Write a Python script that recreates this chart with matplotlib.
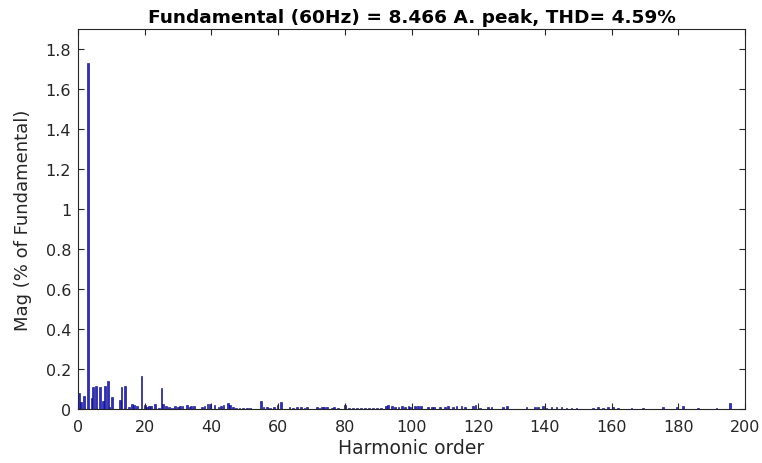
import matplotlib
matplotlib.use("Agg")
import matplotlib.pyplot as plt

plt.rcParams["font.family"] = ["DejaVu Sans"]

# harmonic order (spectrum bins) and magnitude in % of fundamental
order = [0.3, 0.9, 1.7, 3.0, 4.0, 4.5, 5.4, 6.6, 7.5, 8.0, 9.0, 9.4, 10.2,
         12.5, 13.0, 14.0, 15.3, 16.1, 16.7, 17.6, 19.0, 20.0, 20.6, 21.3,
         21.9, 23.0, 24.2, 25.0, 25.5, 26.4, 27.3, 28.2, 29.1, 29.9, 30.6,
         31.3, 32.6, 33.4, 33.9, 34.8, 37.1, 37.9, 38.8, 39.6, 40.9, 42.1,
         42.8, 43.6, 45.0, 45.6, 46.4, 47.4, 48.4, 49.4, 50.6, 51.6, 54.9,
         55.6, 56.6, 57.6, 58.8, 59.8, 60.9, 63.4, 64.4, 65.6, 66.8, 67.9,
         68.6, 71.6, 72.4, 73.1, 73.8, 74.6, 76.1, 76.8, 78.0, 80.1, 81.3,
         82.5, 83.6, 84.8, 86.0, 87.2, 88.4, 89.6, 90.8, 92.4, 93.0, 94.1,
         95.1, 96.1, 97.1, 98.1, 99.1, 99.6, 101.0, 102.0, 102.8, 105.0,
         106.1, 106.7, 108.5, 110.0, 111.0, 112.5, 113.5, 115.0, 116.0,
         118.5, 119.2, 120.5, 123.0, 124.0, 127.5, 128.7, 134.5, 137.0,
         138.0, 139.5, 140.5, 142.0, 143.5, 145.0, 146.5, 148.0, 149.5,
         154.5, 156.0, 157.5, 159.0, 160.5, 162.0, 166.0, 169.5, 175.5,
         179.5, 181.5, 186.0, 191.5, 195.5]
mag = [0.078, 0.033, 0.065, 1.728, 0.055, 0.108, 0.113, 0.108, 0.042, 0.113,
       0.138, 0.01, 0.06, 0.044, 0.108, 0.113, 0.01, 0.023, 0.018, 0.017,
       0.163, 0.02, 0.008, 0.013, 0.013, 0.023, 0.005, 0.103, 0.023, 0.017,
       0.008, 0.007, 0.017, 0.012, 0.017, 0.017, 0.02, 0.01, 0.015, 0.017,
       0.01, 0.017, 0.023, 0.023, 0.018, 0.01, 0.013, 0.018, 0.028, 0.02,
       0.012, 0.005, 0.005, 0.005, 0.005, 0.005, 0.042, 0.012, 0.008, 0.005,
       0.012, 0.02, 0.037, 0.008, 0.005, 0.012, 0.012, 0.005, 0.008, 0.008,
       0.005, 0.012, 0.008, 0.01, 0.005, 0.008, 0.005, 0.02, 0.005, 0.004,
       0.006, 0.005, 0.004, 0.005, 0.006, 0.005, 0.004, 0.017, 0.02, 0.013,
       0.012, 0.012, 0.017, 0.008, 0.017, 0.008, 0.013, 0.017, 0.013, 0.012,
       0.012, 0.012, 0.008, 0.012, 0.015, 0.008, 0.013, 0.013, 0.012, 0.017,
       0.022, 0.005, 0.008, 0.012, 0.01, 0.017, 0.008, 0.008, 0.008, 0.017,
       0.005, 0.008, 0.012, 0.008, 0.005, 0.005, 0.005, 0.005, 0.008, 0.007,
       0.012, 0.008, 0.005, 0.005, 0.005, 0.012, 0.008, 0.013, 0.005, 0.005,
       0.03]

title = "Fundamental (60Hz) = 8.466 A. peak, THD= 4.59%"
yticks = [0, 0.2, 0.4, 0.6, 0.8, 1, 1.2, 1.4, 1.6, 1.8]
xticks = list(range(0, 201, 20))

fig = plt.figure(figsize=(7.62, 4.64), dpi=100)
ax = fig.add_axes([0.1024, 0.1164, 0.8753, 0.8189])

ax.bar(order, mag, width=0.5, color="#2c2cd4", edgecolor="#00006e", linewidth=0.4)

ax.set_xlim(0, 200)
ax.set_ylim(0, 1.9)
ax.set_xticks(xticks)
ax.set_yticks(yticks)
ax.set_yticklabels([f"{v:g}" for v in yticks])

axcol = "#262626"
ax.tick_params(direction="in", top=True, right=True, length=4, width=0.8,
               colors=axcol, labelsize=11.5)
ax.tick_params(axis="x", pad=7)
ax.tick_params(axis="y", pad=5)
for s in ax.spines.values():
    s.set_color(axcol)
    s.set_linewidth(0.8)

ax.set_title(title, fontsize=13.3, fontweight="bold", color="black", pad=5)
ax.set_xlabel("Harmonic order", fontsize=13.5, color=axcol, labelpad=3)
ax.set_ylabel("Mag (% of Fundamental)", fontsize=13, color=axcol, labelpad=10)

fig.savefig("out.png", dpi=100)
